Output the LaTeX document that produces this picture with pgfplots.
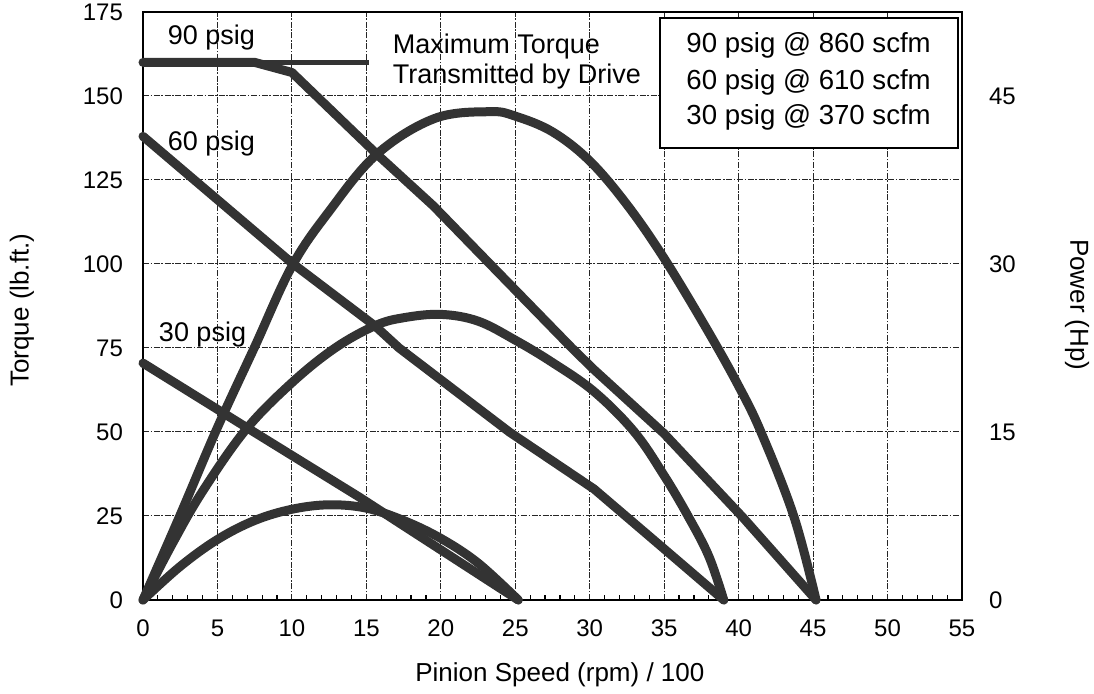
\documentclass[border=0pt]{standalone}
\usepackage{fontspec}
\setmainfont{Liberation Sans}
\usepackage{pgfplots}
\pgfplotsset{compat=1.18}
\definecolor{curve}{HTML}{333333}
\begin{document}
\begin{tikzpicture}
\useasboundingbox (-71.5pt,-47pt) rectangle (475.5pt,300pt);
\begin{axis}[
  at={(0,0)}, anchor=south west,
  width=409.5pt, height=294pt, scale only axis,
  xmin=0, xmax=55, ymin=0, ymax=175,
  xtick={0,5,...,55}, ytick={0,25,...,175},
  minor x tick num=4,
  xtick pos=bottom, ytick pos=left,
  tick align=inside,
  major tick length=0pt, minor tick length=2.5pt,
  tick style={black, line width=0.6pt},
  axis line style={line width=1pt},
  grid=major,
  major grid style={black!85, line width=0.5pt, dash pattern=on 3pt off 0.8pt on 0.8pt off 0.8pt},
  /pgf/number format/assume math mode=true,
  ticklabel style={font=\fontsize{12}{14}\selectfont},
  yticklabel style={xshift=-6.5pt},
  xticklabel style={yshift=-6.5pt},
  xlabel={Pinion Speed (rpm) / 100},
  ylabel={Torque (lb.ft.)},
  every axis x label/.style={at={(axis description cs:0.509,-0.1276)}, anchor=center, font=\fontsize{13}{15}\selectfont},
  every axis y label/.style={at={(axis description cs:-0.1477,0.493)}, anchor=center, rotate=90, font=\fontsize{13}{15}\selectfont},
  clip=false,
]
% torque curves
\addplot[curve, line width=4.5pt, line join=round, line cap=round] coordinates {
(0,160) (7.5,160) (10,157) (15.7,132.7) (19.5,117.3) (23.3,100) (28.8,75) (30.3,68.5) (35,49.5) (40.3,24.5) (45.2,0)};
\addplot[curve, line width=2.5pt] coordinates {(0,160) (15.2,160)};
\addplot[curve, line width=4.5pt, line join=round, line cap=round] coordinates {
(0,138) (10,100.3) (15.6,81.5) (17.2,75) (24.6,50) (30.3,33) (35,15.2) (39,0)};
\addplot[curve, line width=4.5pt, line join=round, line cap=round] coordinates {
(0,70.5) (6.9,51.5) (14.5,30.7) (25.2,0)};
% annotations
\node[anchor=west, font=\fontsize{13.5}{15}\selectfont] at (axis cs:1.2,167.3) {90 psig};
\node[anchor=west, font=\fontsize{13.5}{15}\selectfont] at (axis cs:1.2,136) {60 psig};
\node[anchor=west, font=\fontsize{13.5}{15}\selectfont] at (axis cs:0.6,78.9) {30 psig};
\node[anchor=west, font=\fontsize{13.5}{15}\selectfont] at (axis cs:16.3,164.6) {Maximum Torque};
\node[anchor=west, font=\fontsize{13.5}{15}\selectfont] at (axis cs:16.3,155.7) {Transmitted by Drive};
\draw[line width=1pt, fill=white] (axis cs:34.7,134.5) rectangle (axis cs:54.7,173.2);
\node[font=\fontsize{13.8}{15}\selectfont] at (axis cs:44.7,165.2) {90 psig @ 860 scfm};
\node[font=\fontsize{13.8}{15}\selectfont] at (axis cs:44.7,154.2) {60 psig @ 610 scfm};
\node[font=\fontsize{13.8}{15}\selectfont] at (axis cs:44.7,143.5) {30 psig @ 370 scfm};
\end{axis}
\begin{axis}[
  at={(0,0)}, anchor=south west,
  width=409.5pt, height=294pt, scale only axis,
  xmin=0, xmax=55, ymin=0, ymax=52.5,
  axis x line=none, axis y line*=right,
  ytick={0,15,30,45},
  major tick length=0pt,
  axis line style={line width=1pt},
  /pgf/number format/assume math mode=true,
  ticklabel style={font=\fontsize{12}{14}\selectfont},
  yticklabel style={xshift=10pt},
  ylabel={Power (Hp)},
  every axis y label/.style={at={(axis description cs:1.1404,0.502)}, anchor=center, rotate=-90, font=\fontsize{13}{15}\selectfont},
  clip=false,
]
\addplot[curve, line width=4.5pt, smooth, tension=0.6, line cap=round] coordinates {
(0,0) (2.5,7.6) (5,15.4) (7.5,22.6) (10,29.8) (12.5,34.7) (15.7,39.8) (19.6,43.0) (23.3,43.6) (25,43.2) (27.5,41.8) (30,39.2) (32.5,35.3) (35,30.5) (37.9,24.1) (40,19.1) (41.5,15) (43.7,7.5) (45.2,0)};
\addplot[curve, line width=4.5pt, smooth, tension=0.6, line cap=round] coordinates {
(0,0) (2,5.1) (4,9.7) (6.9,15.2) (10,19.4) (12.9,22.5) (15.6,24.5) (17.5,25.2) (20,25.5) (22.5,24.9) (25,23.2) (27.5,21.2) (30.3,18.6) (33,15) (35,11.1) (36.6,7.5) (38,3.9) (39,0)};
\addplot[curve, line width=4.5pt, smooth, tension=0.6, line cap=round] coordinates {
(0,0) (2.5,3.0) (5,5.4) (7.5,7.1) (10,8.1) (12.5,8.5) (15,8.2) (17.5,7.1) (20,5.5) (22.5,3.3) (25.2,0)};
\end{axis}
\end{tikzpicture}
\end{document}
